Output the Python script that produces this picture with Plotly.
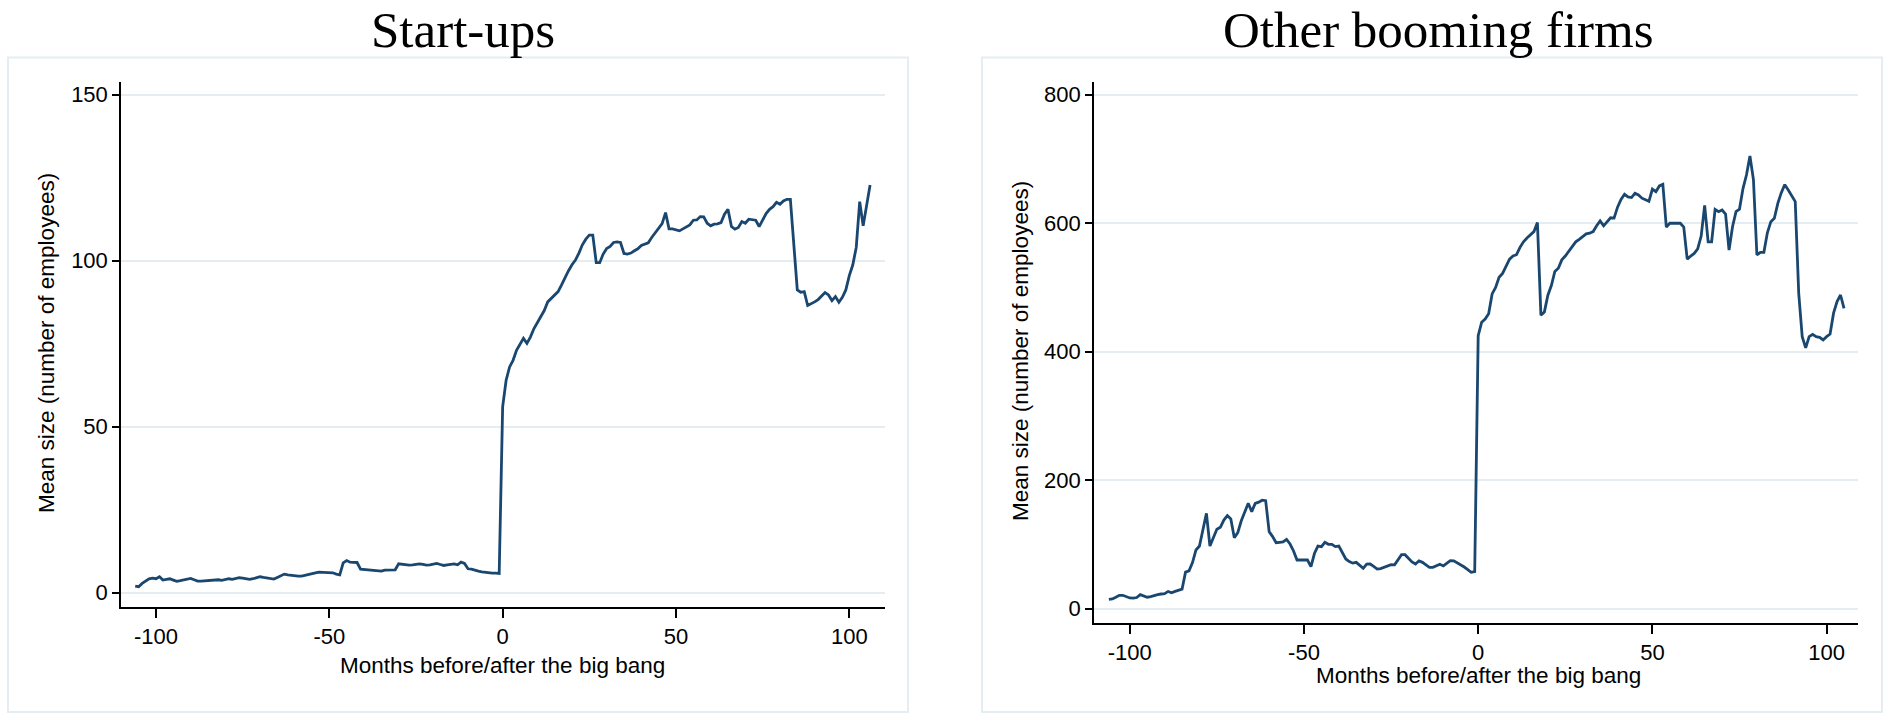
import plotly.graph_objects as go

W, H = 1890, 720

# ---------------- data ----------------
months_startups = list(range(-106, 107))
size_startups = [
    # -106 .. -1
    2.0, 1.8, 2.8, 3.6, 4.2, 4.4, 4.2, 4.8, 3.8, 4.0,
    4.2, 3.8, 3.4, 3.6, 3.8, 4.0, 4.3, 3.9, 3.5, 3.5,
    3.6, 3.6, 3.8, 4.0, 3.9, 3.7, 4.0, 4.2, 4.0, 4.3,
    4.5, 4.4, 4.2, 4.0, 4.2, 4.5, 4.8, 4.6, 4.4, 4.2,
    4.1, 4.6, 5.2, 5.6, 5.4, 5.2, 5.1, 5.0, 5.0, 5.3,
    5.6, 5.8, 6.0, 6.2, 6.2, 6.1, 6.1, 6.0, 5.6, 5.4,
    9.0, 9.7, 9.2, 9.2, 9.1, 7.1, 7.0, 7.0, 6.9, 6.9,
    6.7, 6.5, 6.8, 6.9, 6.8, 6.9, 8.7, 8.5, 8.4, 8.3,
    8.4, 8.5, 8.7, 8.5, 8.3, 8.4, 8.6, 8.8, 8.5, 8.2,
    8.4, 8.6, 8.7, 8.4, 9.2, 8.8, 7.2, 7.1, 6.7, 6.5,
    6.3, 6.1, 6.0, 5.9, 5.9, 5.8,
    # 0 .. 106
    56.0, 64.0, 68.0, 70.0, 73.0, 74.6, 76.6, 75.1, 77.0, 79.5,
    81.2, 83.0, 85.0, 87.6, 88.6, 89.5, 90.7, 92.7, 95.0, 97.0,
    98.8, 100.2, 102.3, 104.8, 106.5, 107.7, 107.7, 99.4, 99.4, 102.0,
    103.7, 104.3, 105.5, 105.7, 105.5, 102.2, 102.0, 102.3, 103.0, 103.6,
    104.6, 105.1, 105.4, 107.0, 108.5, 109.8, 111.2, 114.5, 109.6, 109.6,
    109.4, 109.0, 109.6, 110.2, 110.8, 112.2, 112.3, 113.3, 113.2, 111.3,
    110.5, 111.0, 111.1, 111.5, 114.0, 115.5, 110.3, 109.5, 110.0, 111.8,
    111.3, 112.5, 112.4, 112.2, 110.3, 112.2, 114.2, 115.5, 116.3, 117.6,
    117.0, 118.0, 118.5, 118.5, 104.7, 91.2, 90.5, 90.7, 86.5, 87.0,
    87.6, 88.3, 89.2, 90.4, 89.7, 88.0, 89.2, 87.5, 89.0, 91.2,
    95.5, 98.7, 104.0, 117.8, 110.5, 116.5, 122.8,
]

months_booming = list(range(-106, 106))
size_booming = [
    # -106 .. -1
    14.7, 15.3, 18.0, 21.0, 21.0, 19.0, 16.8, 16.5, 17.5, 22.0,
    19.5, 18.0, 19.0, 21.0, 22.0, 23.0, 23.6, 27.0, 25.0, 27.0,
    29.0, 30.5, 57.0, 59.0, 72.0, 91.5, 97.7, 123.0, 148.6, 97.7,
    109.7, 123.7, 126.8, 138.0, 145.0, 139.8, 110.7, 118.5, 137.0, 152.0,
    164.2, 151.2, 164.0, 166.0, 169.0, 168.3, 120.0, 112.3, 102.9, 103.5,
    104.0, 108.0, 100.8, 90.0, 75.9, 75.9, 75.9, 75.9, 65.5, 86.0,
    97.5, 96.7, 103.4, 100.3, 100.3, 96.7, 97.7, 88.0, 77.5, 73.5,
    71.0, 72.3, 67.5, 63.0, 69.5, 69.7, 66.0, 61.9, 62.5, 64.5,
    66.6, 68.5, 68.3, 76.0, 84.2, 84.2, 79.0, 73.0, 69.7, 74.4,
    72.3, 68.0, 64.5, 64.5, 67.0, 69.2, 66.6, 71.0, 74.9, 74.5,
    71.5, 68.0, 65.0, 61.0, 56.7, 57.8,
    # 0 .. 105
    425.0, 446.0, 451.0, 459.0, 490.0, 500.0, 516.0, 522.0, 532.0, 544.0,
    549.0, 551.0, 562.5, 571.0, 577.0, 582.0, 587.0, 601.0, 457.0, 462.0,
    488.0, 503.0, 525.0, 530.0, 543.0, 549.0, 556.0, 563.0, 571.0, 575.0,
    580.0, 583.5, 584.5, 587.0, 596.0, 603.5, 596.0, 602.0, 608.5, 608.0,
    625.0, 637.0, 645.0, 641.0, 640.0, 646.6, 644.0, 639.0, 636.0, 634.0,
    653.0, 649.0, 658.0, 660.5, 594.0, 600.0, 600.0, 600.0, 600.0, 594.0,
    544.0, 549.0, 553.0, 560.0, 580.0, 627.7, 571.0, 571.0, 621.6, 618.0,
    620.6, 614.4, 558.3, 594.6, 618.0, 622.0, 654.0, 675.0, 704.6, 668.0,
    550.6, 554.7, 554.7, 585.0, 602.4, 607.6, 631.0, 647.6, 660.0, 651.7,
    643.0, 633.6, 491.0, 423.5, 406.0, 423.5, 427.0, 423.5, 422.4, 418.3,
    423.5, 427.5, 460.0, 478.0, 488.3, 467.6,
]

x_tickvals = [-100, -50, 0, 50, 100]
x_ticktext = ["-100", "-50", "0", "50", "100"]
y_ticks_startups = [0, 50, 100, 150]
y_ticks_booming = [0, 200, 400, 600, 800]

panel_titles = ["Start-ups", "Other booming firms"]
x_title = "Months before/after the big bang"
y_title = "Mean size (number of employees)"

# ---------------- style ----------------
LINE = "#1a476f"
GRID = "#e4edf1"
FRAME = "#e4edf1"
SANS = "Liberation Sans, Arial, sans-serif"
SERIF = "Liberation Serif, Times New Roman, serif"


def px_x(p):
    return p / W


def px_y(p):
    return 1 - p / H


fig = go.Figure()
fig.add_trace(go.Scatter(x=months_startups, y=size_startups, mode="lines",
                         line=dict(color=LINE, width=2.8), xaxis="x", yaxis="y",
                         showlegend=False))
fig.add_trace(go.Scatter(x=months_booming, y=size_booming, mode="lines",
                         line=dict(color=LINE, width=2.8), xaxis="x2", yaxis="y2",
                         showlegend=False))

common_x = dict(tickvals=x_tickvals, ticktext=x_ticktext, ticks="outside", ticklen=9,
                tickwidth=1.5, tickcolor="black", showline=True, linecolor="black",
                linewidth=1.5, showgrid=False, zeroline=False,
                tickfont=dict(family=SANS, size=22, color="black"))
common_y = dict(ticks="outside", ticklen=7, tickwidth=1.5, tickcolor="black",
                showline=True, linecolor="black", linewidth=1.5, showgrid=True,
                gridcolor=GRID, gridwidth=2, zeroline=False,
                tickfont=dict(family=SANS, size=22, color="black"))

fig.update_layout(
    width=W, height=H,
    margin=dict(l=0, r=0, t=0, b=0),
    paper_bgcolor="white", plot_bgcolor="white",
    showlegend=False,
    xaxis=dict(domain=[px_x(121), px_x(885)], anchor="y", range=[-110.1, 110.3], **common_x),
    yaxis=dict(domain=[px_y(607.3), px_y(81.8)], anchor="x", range=[-4.4, 153.9],
               tickvals=y_ticks_startups, **common_y),
    xaxis2=dict(domain=[px_x(1093.9), px_x(1858.3)], anchor="y2", range=[-110.3, 109.1], **common_x),
    yaxis2=dict(domain=[px_y(623.3), px_y(81.8)], anchor="x2", range=[-22.6, 820.1],
                tickvals=y_ticks_booming, **common_y),
)

# outer frames (graph regions)
for x0, x1 in [(8, 908), (982, 1882)]:
    fig.add_shape(type="rect", xref="paper", yref="paper",
                  x0=px_x(x0), x1=px_x(x1), y0=px_y(712), y1=px_y(57.5),
                  line=dict(color=FRAME, width=2), fillcolor="rgba(0,0,0,0)", layer="below")

annotations = []
for txt, cx in zip(panel_titles, [463, 1438]):
    annotations.append(dict(text=txt, x=px_x(cx), y=1, xref="paper", yref="paper",
                            xanchor="center", yanchor="top", showarrow=False,
                            font=dict(family=SERIF, size=51, color="black")))
for cx, cy in [(503, 665), (1478, 675)]:
    annotations.append(dict(text=x_title, x=px_x(cx), y=px_y(cy), xref="paper", yref="paper",
                            xanchor="center", yanchor="middle", showarrow=False,
                            font=dict(family=SANS, size=22.5, color="black")))
for cx, cy in [(46, 343), (1020, 351)]:
    annotations.append(dict(text=y_title, x=px_x(cx), y=px_y(cy), xref="paper", yref="paper",
                            xanchor="center", yanchor="middle", showarrow=False, textangle=-90,
                            font=dict(family=SANS, size=22.5, color="black")))
fig.update_layout(annotations=annotations)

fig.write_html("out.html", config={"displayModeBar": False},
               post_script="document.body.style.margin='0';")
